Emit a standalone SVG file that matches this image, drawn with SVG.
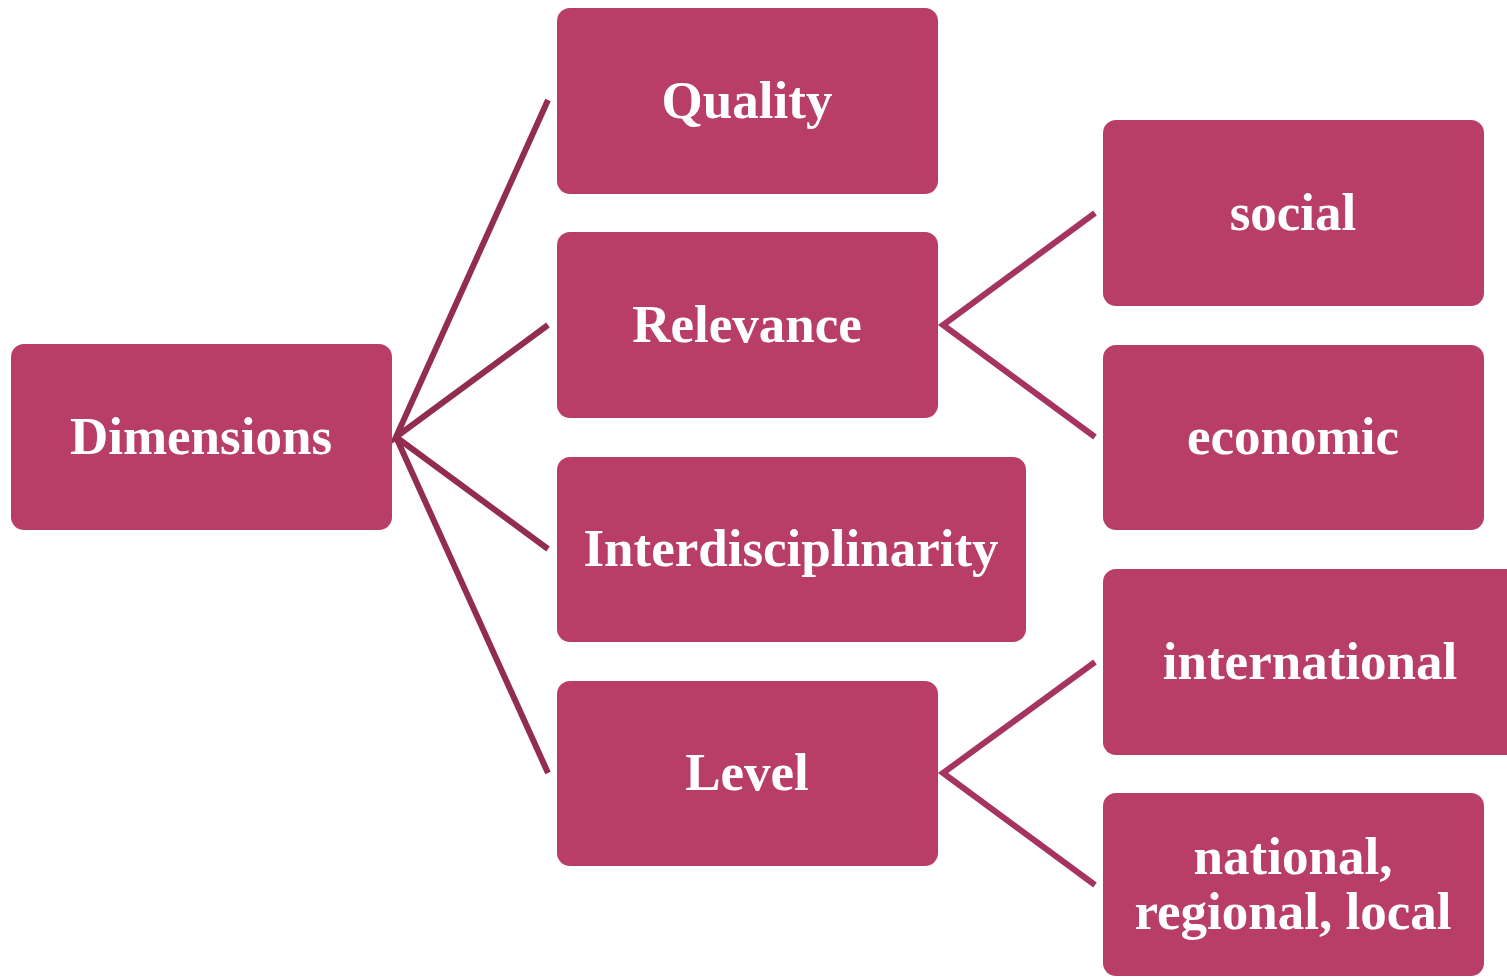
<svg xmlns="http://www.w3.org/2000/svg" width="1507" height="977" viewBox="0 0 1507 977">
<style>
.box{fill:#B83D67}
.lbl{font-family:"Liberation Serif","Times New Roman",serif;font-weight:bold;font-size:53px;fill:#FFFFFF;text-anchor:middle}
.c1{stroke:#922C50;stroke-width:6;fill:none}
.c2{stroke:#A63460;stroke-width:6;fill:none}
</style>
<rect width="1507" height="977" fill="#FFFFFF"/>
<g id="connectors">
<path class="c1" d="M548,100 L396,437 L548,325 M396,437 L548,549 M396,437 L548,773"/>
<path class="c2" d="M1095,213 L943,325 L1095,437"/>
<path class="c2" d="M1095,662 L943,773 L1095,885"/>
</g>
<g id="dimensions"><rect class="box" x="11" y="344" width="381" height="186" rx="13"/><text class="lbl" x="201" y="454">Dimensions</text></g>
<g id="quality"><rect class="box" x="557" y="8" width="381" height="186" rx="13"/><text class="lbl" x="747" y="118">Quality</text></g>
<g id="relevance"><rect class="box" x="557" y="232" width="381" height="186" rx="13"/><text class="lbl" x="747" y="342">Relevance</text></g>
<g id="interdisciplinarity"><rect class="box" x="557" y="457" width="469" height="185" rx="13"/><text class="lbl" x="791" y="566">Interdisciplinarity</text></g>
<g id="level"><rect class="box" x="557" y="681" width="381" height="185" rx="13"/><text class="lbl" x="747" y="790">Level</text></g>
<g id="social"><rect class="box" x="1103" y="120" width="381" height="186" rx="13"/><text class="lbl" x="1293" y="230">social</text></g>
<g id="economic"><rect class="box" x="1103" y="345" width="381" height="185" rx="13"/><text class="lbl" x="1293" y="454">economic</text></g>
<g id="international"><rect class="box" x="1103" y="569" width="420" height="186" rx="13"/><text class="lbl" x="1310" y="679">international</text></g>
<g id="national"><rect class="box" x="1103" y="793" width="381" height="183" rx="13"/><text class="lbl" x="1293" y="874">national,</text><text class="lbl" x="1293" y="929">regional, local</text></g>
</svg>
